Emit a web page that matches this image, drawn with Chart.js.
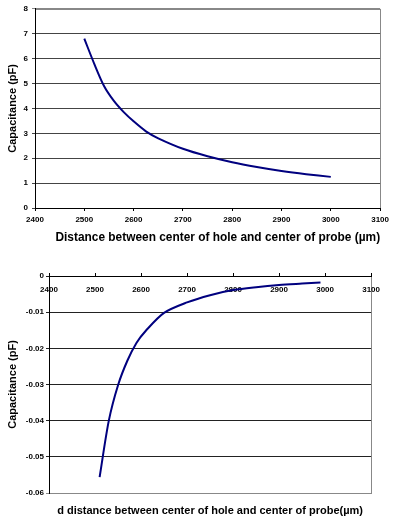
<!DOCTYPE html>
<html>
<head>
<meta charset="utf-8">
<script src="https://cdn.jsdelivr.net/npm/chart.js@4.4.1/dist/chart.umd.min.js"></script>
<style>
    html, body { margin: 0; padding: 0; background: #fff; }
    .box { position: absolute; left: 0; width: 393px; }
    #top-box { top: 0; height: 250px; }
    #bottom-box { top: 250px; height: 271px; }
</style>
</head>
<body>
<div class="box" id="top-box"><canvas id="capacitance-chart"></canvas></div>
<div class="box" id="bottom-box"><canvas id="delta-chart"></canvas></div>
<script>
// Data
const distanceTop = [2500, 2520, 2540, 2560, 2580, 2600, 2625, 2650, 2700, 2750, 2800, 2850, 2900, 2950, 3000];
const capacitanceTop = [6.8, 5.8, 4.9, 4.3, 3.85, 3.48, 3.08, 2.8, 2.38, 2.08, 1.84, 1.65, 1.49, 1.36, 1.25];

const distanceBottom = [2510, 2530, 2550, 2570, 2590, 2610, 2650, 2700, 2750, 2800, 2850, 2900, 2950, 2990];
const capacitanceBottom = [-0.0556, -0.0400, -0.0302, -0.0235, -0.0185, -0.0152, -0.0102, -0.0073, -0.0053, -0.0039, -0.0031, -0.0025, -0.0021, -0.0018];

const xTicks = [2400, 2500, 2600, 2700, 2800, 2900, 3000, 3100];
const yTicksTop = [0, 1, 2, 3, 4, 5, 6, 7, 8];
const yTicksBottom = [0, -0.01, -0.02, -0.03, -0.04, -0.05, -0.06];

const FONT = "'Liberation Sans', Arial, sans-serif";
const tickFont = { family: FONT, size: 8, weight: 'bold' };
const yTitleFont = { family: FONT, size: 11, weight: 'bold' };
const lineColor = '#00007f';

Chart.defaults.animation = false;
Chart.defaults.color = '#000';

// gray frame round the plot area, drawn before the axes
const frame = {
    id: 'frame',
    beforeDraw(chart) {
        const a = chart.chartArea;
        const ctx = chart.ctx;
        ctx.save();
        ctx.strokeStyle = '#888';
        ctx.lineWidth = 1;
        ctx.strokeRect(Math.round(a.left) + 0.5, Math.round(a.top) + 0.5, Math.round(a.right - a.left), Math.round(a.bottom - a.top));
        ctx.restore();
    }
};

function toPoints(xs, ys) {
    return xs.map((x, i) => ({ x: x, y: ys[i] }));
}

// Top chart: capacitance vs distance
function initTopChart() {
    const ctx = document.getElementById('capacitance-chart');
    new Chart(ctx, {
        type: 'scatter',
        data: {
            datasets: [{
                data: toPoints(distanceTop, capacitanceTop),
                showLine: true,
                borderColor: lineColor,
                borderWidth: 2,
                pointRadius: 0,
                tension: 0.3
            }]
        },
        options: {
            responsive: true,
            maintainAspectRatio: false,
            layout: { padding: { left: 0, right: 10, top: 8, bottom: 0 } },
            plugins: { legend: { display: false }, tooltip: { enabled: false } },
            scales: {
                x: {
                    type: 'linear',
                    min: 2400,
                    max: 3100,
                    afterFit: (s) => { s.height = 42; },
                    afterBuildTicks: (s) => { s.ticks = xTicks.map(v => ({ value: v })); },
                    border: { color: '#000', width: 1 },
                    grid: { drawOnChartArea: false, drawTicks: true, tickLength: 3, color: '#000' },
                    ticks: { font: tickFont, padding: 4, maxRotation: 0, callback: (v) => String(v) },
                    title: {
                        display: true,
                        text: 'Distance between center of hole and center of probe (µm)',
                        font: { family: FONT, size: 11.9, weight: 'bold' },
                        align: 'end',
                        padding: { top: 0, bottom: 5 }
                    }
                },
                y: {
                    min: 0,
                    max: 8,
                    afterFit: (s) => { s.width = 35; },
                    afterBuildTicks: (s) => { s.ticks = yTicksTop.map(v => ({ value: v })); },
                    border: { color: '#000', width: 1 },
                    grid: {
                        color: (c) => (c.tick && c.tick.value === 8) ? '#888' : '#444',
                        tickLength: 3
                    },
                    ticks: { font: tickFont, padding: 4 },
                    title: {
                        display: true,
                        text: 'Capacitance (pF)',
                        font: yTitleFont,
                        padding: { top: 6, bottom: 0 }
                    }
                }
            }
        },
        plugins: [frame]
    });
}

// Bottom chart: change of capacitance vs distance
function initBottomChart() {
    const ctx = document.getElementById('delta-chart');
    new Chart(ctx, {
        type: 'scatter',
        data: {
            datasets: [{
                data: toPoints(distanceBottom, capacitanceBottom),
                showLine: true,
                borderColor: lineColor,
                borderWidth: 2,
                pointRadius: 0,
                tension: 0.3
            }]
        },
        options: {
            responsive: true,
            maintainAspectRatio: false,
            layout: { padding: { left: 0, right: 10, top: 26, bottom: 0 } },
            plugins: { legend: { display: false }, tooltip: { enabled: false } },
            scales: {
                x: {
                    type: 'linear',
                    position: { y: 0 },
                    min: 2400,
                    max: 3100,
                    afterBuildTicks: (s) => { s.ticks = xTicks.map(v => ({ value: v })); },
                    border: { color: '#000', width: 1 },
                    grid: { drawOnChartArea: false, drawTicks: true, tickLength: -4, color: '#000' },
                    ticks: { font: tickFont, padding: 13, maxRotation: 0, callback: (v) => String(v) }
                },
                x2: {
                    type: 'linear',
                    position: 'bottom',
                    min: 2400,
                    max: 3100,
                    afterFit: (s) => { s.height = 28; },
                    border: { color: '#888', width: 1 },
                    grid: { display: false },
                    ticks: { display: false },
                    title: {
                        display: true,
                        text: 'd distance between center of hole and center of probe(µm)',
                        font: { family: FONT, size: 11, weight: 'bold' },
                        padding: { top: 0, bottom: 3 }
                    }
                },
                y: {
                    min: -0.06,
                    max: 0,
                    afterFit: (s) => { s.width = 49; },
                    afterBuildTicks: (s) => { s.ticks = yTicksBottom.map(v => ({ value: v })); },
                    border: { color: '#000', width: 1 },
                    grid: {
                        color: (c) => (c.tick && Math.abs(c.tick.value + 0.06) < 1e-9) ? '#888' : '#222',
                        tickLength: 3
                    },
                    ticks: {
                        font: tickFont,
                        padding: 2,
                        callback: (v) => v === 0 ? '0' : v.toFixed(2)
                    },
                    title: {
                        display: true,
                        text: 'Capacitance (pF)',
                        font: yTitleFont,
                        padding: { top: 6, bottom: 0 }
                    }
                }
            }
        },
        plugins: [frame]
    });
}

initTopChart();
initBottomChart();
</script>
</body>
</html>
